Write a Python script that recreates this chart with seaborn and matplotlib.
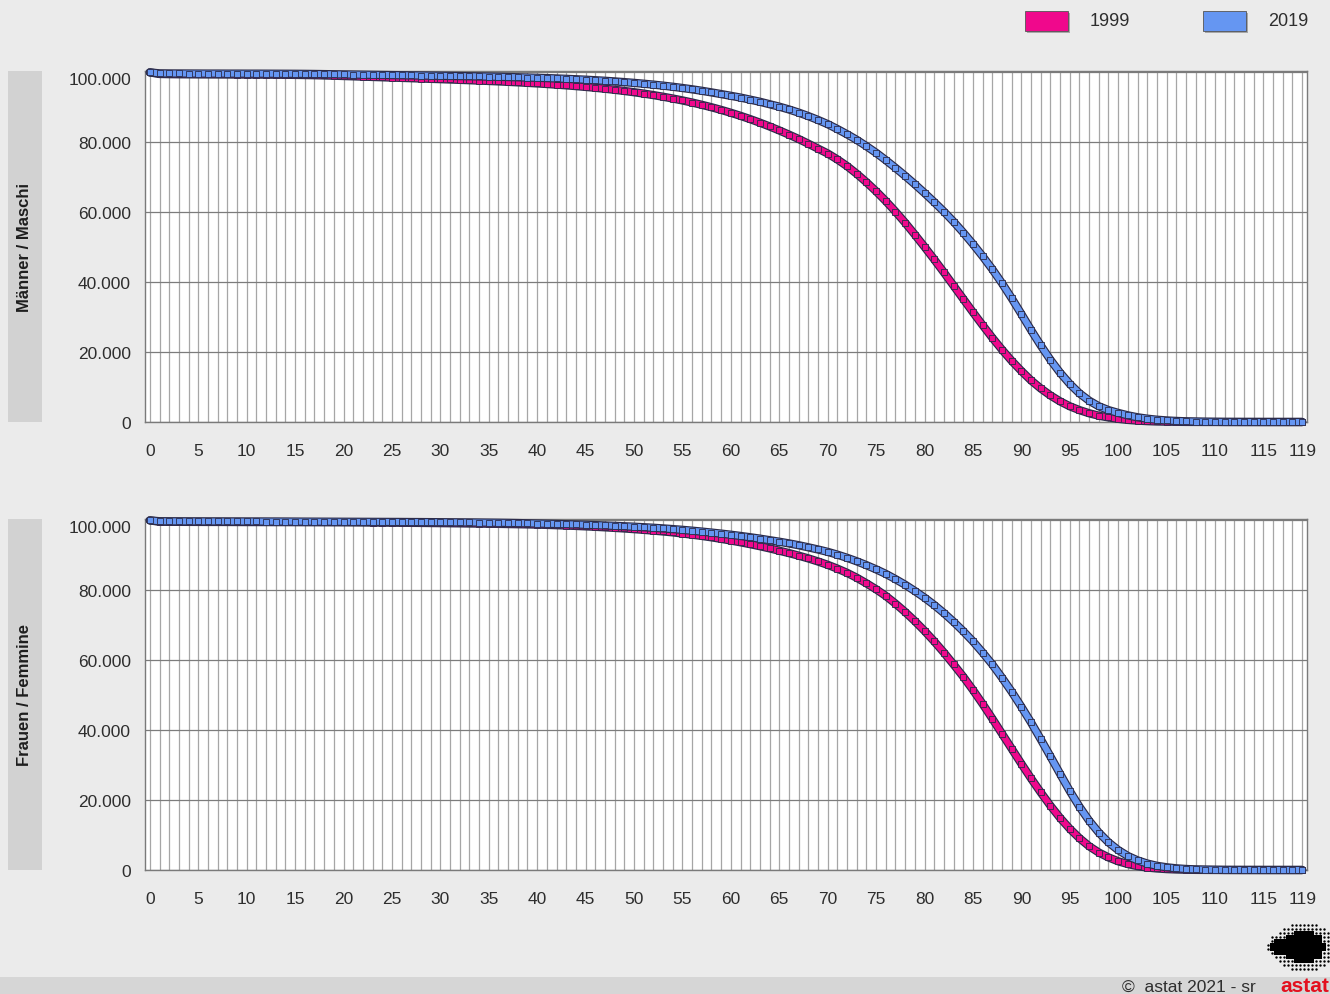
import numpy as np
import pandas as pd
import matplotlib
matplotlib.use("Agg")
import matplotlib.pyplot as plt
import seaborn as sns
from matplotlib.patches import Rectangle

# ---------------- data (survivors out of 100.000, in thousands) ----------------
ages = list(range(120))

men_1999 = [
    100.0, 99.55, 99.5, 99.47, 99.45, 99.43, 99.42, 99.41, 99.4, 99.39,
    99.38, 99.37, 99.36, 99.34, 99.32, 99.29, 99.25, 99.2, 99.13, 99.05,
    98.97, 98.88, 98.79, 98.7, 98.61, 98.52, 98.43, 98.34, 98.25, 98.16,
    98.07, 97.97, 97.87, 97.77, 97.66, 97.55, 97.43, 97.3, 97.16, 97.01,
    96.85, 96.68, 96.5, 96.3, 96.08, 95.85, 95.6, 95.32, 95.02, 94.69,
    94.33, 93.94, 93.51, 93.04, 92.53, 91.98, 91.38, 90.73, 90.03, 89.27,
    88.45, 87.57, 86.63, 85.62, 84.54, 83.4, 82.2, 80.95, 79.6, 78.2,
    76.8, 75.1, 73.2, 71.0, 68.6, 66.0, 63.2, 60.2, 57.0, 53.6,
    50.1, 46.5, 42.8, 39.0, 35.2, 31.4, 27.7, 24.1, 20.7, 17.5,
    14.6, 11.9, 9.6, 7.6, 5.9, 4.5, 3.4, 2.5, 1.8, 1.3,
    0.9, 0.6, 0.4, 0.25, 0.15, 0.1, 0.06, 0.03, 0.02, 0.01,
    0.01, 0, 0, 0, 0, 0, 0, 0, 0, 0,
]

men_2019 = [
    100.0, 99.72, 99.7, 99.69, 99.68, 99.67, 99.66, 99.66, 99.65, 99.65,
    99.64, 99.64, 99.63, 99.62, 99.61, 99.6, 99.58, 99.55, 99.51, 99.47,
    99.43, 99.39, 99.35, 99.31, 99.27, 99.23, 99.19, 99.15, 99.11, 99.07,
    99.03, 98.99, 98.95, 98.9, 98.85, 98.8, 98.74, 98.68, 98.61, 98.54,
    98.46, 98.37, 98.27, 98.16, 98.04, 97.91, 97.76, 97.6, 97.42, 97.22,
    97.0, 96.76, 96.5, 96.21, 95.89, 95.54, 95.16, 94.74, 94.28, 93.8,
    93.3, 92.8, 92.2, 91.6, 90.9, 90.2, 89.4, 88.5, 87.5, 86.4,
    85.2, 83.8, 82.3, 80.7, 78.9, 77.0, 74.9, 72.7, 70.4, 68.0,
    65.5, 62.9, 60.2, 57.3, 54.2, 50.9, 47.4, 43.7, 39.7, 35.4,
    30.9, 26.3, 21.9, 17.8, 14.1, 10.9, 8.2, 6.1, 4.5, 3.4,
    2.6, 1.9, 1.35, 0.95, 0.65, 0.45, 0.3, 0.2, 0.13, 0.08,
    0.05, 0.03, 0.02, 0.01, 0.01, 0, 0, 0, 0, 0,
]

women_1999 = [
    100.0, 99.62, 99.6, 99.59, 99.58, 99.57, 99.56, 99.56, 99.55, 99.54,
    99.53, 99.53, 99.52, 99.51, 99.51, 99.5, 99.49, 99.48, 99.47, 99.46,
    99.45, 99.43, 99.41, 99.39, 99.37, 99.35, 99.33, 99.3, 99.28, 99.25,
    99.22, 99.19, 99.16, 99.12, 99.09, 99.05, 99.01, 98.96, 98.91, 98.86,
    98.8, 98.72, 98.63, 98.53, 98.42, 98.3, 98.17, 98.02, 97.86, 97.69,
    97.5, 97.3, 97.08, 96.84, 96.58, 96.25, 95.92, 95.56, 95.16, 94.72,
    94.25, 93.74, 93.2, 92.62, 92.0, 91.33, 90.65, 89.92, 89.13, 88.25,
    87.3, 86.2, 85.0, 83.6, 82.0, 80.3, 78.4, 76.2, 73.8, 71.2,
    68.4, 65.4, 62.2, 58.8, 55.3, 51.5, 47.5, 43.3, 39.0, 34.7,
    30.4, 26.2, 22.2, 18.4, 14.9, 11.8, 9.1, 6.8, 5.0, 3.6,
    2.5, 1.7, 1.1, 0.7, 0.44, 0.26, 0.15, 0.08, 0.04, 0.02,
    0.01, 0, 0, 0, 0, 0, 0, 0, 0, 0,
]

women_2019 = [
    100.0, 99.76, 99.74, 99.73, 99.72, 99.72, 99.71, 99.71, 99.7, 99.7,
    99.69, 99.69, 99.68, 99.68, 99.67, 99.66, 99.65, 99.64, 99.63, 99.62,
    99.61, 99.6, 99.59, 99.58, 99.57, 99.56, 99.55, 99.53, 99.52, 99.5,
    99.48, 99.46, 99.44, 99.42, 99.39, 99.36, 99.33, 99.29, 99.24, 99.17,
    99.1, 99.04, 98.98, 98.91, 98.83, 98.75, 98.65, 98.55, 98.44, 98.32,
    98.2, 98.05, 97.89, 97.71, 97.51, 97.3, 97.06, 96.8, 96.52, 96.22,
    95.9, 95.55, 95.18, 94.78, 94.34, 93.9, 93.42, 92.9, 92.3, 91.68,
    91.0, 90.2, 89.3, 88.3, 87.2, 86.0, 84.7, 83.2, 81.6, 79.8,
    77.9, 75.8, 73.5, 71.0, 68.3, 65.4, 62.2, 58.8, 55.0, 51.0,
    46.7, 42.2, 37.4, 32.5, 27.5, 22.6, 18.1, 14.1, 10.7, 7.9,
    5.7, 4.0, 2.75, 1.85, 1.2, 0.78, 0.48, 0.29, 0.17, 0.1,
    0.06, 0.03, 0.02, 0.01, 0.01, 0, 0, 0, 0, 0,
]

years = ["1999", "2019"]
panel_labels = ["Männer / Maschi", "Frauen / Femmine"]
y_ticks = [0, 20, 40, 60, 80, 100]
x_label_ages = [0, 5, 10, 15, 20, 25, 30, 35, 40, 45, 50, 55, 60, 65, 70, 75,
                80, 85, 90, 95, 100, 105, 110, 115, 119]

series = {
    "Männer / Maschi": {"1999": men_1999, "2019": men_2019},
    "Frauen / Femmine": {"1999": women_1999, "2019": women_2019},
}

# ---------------- style ----------------
colors = {"1999": "#F0088C", "2019": "#6596F2"}
edge = "#2b2b4a"
bg = "#ebebeb"
text_col = "#2e2e2e"

sns.set_theme(style="white")
plt.rcParams["font.family"] = ["Liberation Sans", "DejaVu Sans"]

W, H = 1330, 995
fig = plt.figure(figsize=(W / 100, H / 100), dpi=100, facecolor=bg)

# overlay for decorations in pixel coordinates
ov = fig.add_axes([0, 0, 1, 1], zorder=0)
ov.set_xlim(0, W)
ov.set_ylim(H, 0)
ov.axis("off")
ov.patch.set_alpha(0)

# bottom strip
ov.add_patch(Rectangle((0, 978), W, 17, facecolor="#d6d6d6", edgecolor="none"))
ov.text(1122, 987, "©  astat 2021 - sr", fontsize=12.5, color=text_col,
        ha="left", va="center")
ov.text(1280, 987, "astat", fontsize=15, color="#e3101e", fontweight="bold",
        ha="left", va="center", clip_on=False)
# logo (dotted blob)
for r in range(13):
    for c in range(17):
        px = 1268 + c * 4
        py = 926 + r * 4
        d = ((px - 1303) / 33) ** 2 + ((py - 948) / 24) ** 2
        d2 = ((px - 1280) / 13) ** 2 + ((py - 947) / 12) ** 2
        dd = min(d, d2)
        if dd < 1.0:
            s = 9 if dd < 0.45 else 3
            ov.scatter([px], [py], s=s, color="black",
                       marker="s" if dd < 0.45 else "o", linewidths=0)

# legend
for i, yr in enumerate(years):
    bx = [1025, 1203][i]
    tx = [1090, 1268][i]
    ov.add_patch(Rectangle((bx + 2, 14), 43, 20, facecolor="#7a7a7a",
                           edgecolor="none", alpha=0.6))
    ov.add_patch(Rectangle((bx, 12), 43, 20, facecolor=colors[yr],
                           edgecolor="#555555", linewidth=0.6))
    ov.text(tx, 22, yr, fontsize=13, color=text_col, ha="left", va="center")

# panels
tops = [72, 520]
ph = 351
for k, label in enumerate(panel_labels):
    top = tops[k]
    ov.add_patch(Rectangle((8, top), 34, ph, facecolor="#d2d2d2", edgecolor="none"))
    ov.text(25, top + ph / 2, label, rotation=90, fontsize=12, fontweight="bold",
            color="#1e1e1e", ha="center", va="center")

    ax = fig.add_axes([145 / W, 1 - (top + ph) / H, 1162 / W, ph / H], zorder=1)
    ax.set_facecolor("white")

    df = pd.DataFrame({
        "age": ages * 2,
        "value": series[label]["1999"] + series[label]["2019"],
        "year": ["1999"] * len(ages) + ["2019"] * len(ages),
    })

    for j, yr in enumerate(years):
        sub = df[df["year"] == yr]
        sns.lineplot(data=sub, x="age", y="value", color=edge, linewidth=6.0,
                     errorbar=None, ax=ax, legend=False, zorder=3 + 2 * j,
                     clip_on=False)
        sns.lineplot(data=sub, x="age", y="value", color=colors[yr], linewidth=4.3,
                     marker="s", markersize=4.8, markeredgecolor=edge,
                     markeredgewidth=0.6, errorbar=None, ax=ax, legend=False,
                     zorder=4 + 2 * j, clip_on=False)

    ax.set_xlim(-0.5, 119.5)
    ax.set_ylim(0, 100.4)
    ax.set_xticks(ages)
    ax.set_xticklabels([str(a) if a in x_label_ages else "" for a in ages])
    ax.set_yticks(y_ticks)
    ax.set_yticklabels([f"{v}.000" if v > 0 else "0" for v in y_ticks])
    ax.get_yticklabels()[-1].set_verticalalignment("top")
    ax.grid(axis="x", color="#a6a6a6", linewidth=0.9)
    ax.grid(axis="y", color="#7c7c7c", linewidth=0.9)
    ax.set_axisbelow(True)
    ax.tick_params(axis="both", length=0, labelsize=12.5, labelcolor=text_col)
    ax.tick_params(axis="x", pad=15)
    ax.tick_params(axis="y", pad=10)
    ax.set_xlabel("")
    ax.set_ylabel("")
    for sp in ax.spines.values():
        sp.set_color("#7a7a7a")
        sp.set_linewidth(1.0)

fig.savefig("out.png", dpi=100, facecolor=bg)
